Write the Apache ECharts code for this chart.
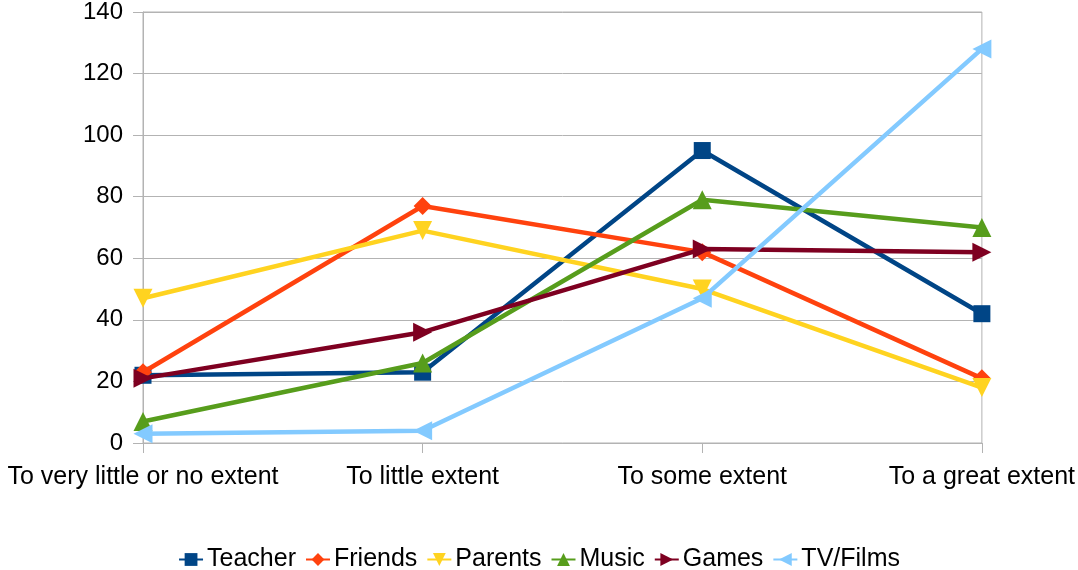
<!DOCTYPE html>
<html>
<head>
<meta charset="utf-8">
<script src="https://cdn.jsdelivr.net/npm/echarts@6/dist/echarts.min.js"></script>
<style>
  html, body { margin: 0; padding: 0; background: #ffffff; }
  #chart { width: 1078px; height: 570px; }
</style>
</head>
<body>
<div id="chart"></div>
<script>
// Categories along the x axis
const categories = ['To very little or no extent', 'To little extent', 'To some extent', 'To a great extent'];

// One series per source of influence
const teacher = [22, 23, 95, 42];
const friends = [23, 77, 62, 21];
const parents = [47, 69, 50, 18];
const music   = [7, 26, 79, 70];
const games   = [21, 36, 63, 62];
const tvFilms = [3, 4, 47, 128];

const seriesNames = ['Teacher', 'Friends', 'Parents', 'Music', 'Games', 'TV/Films'];
const seriesData  = [teacher, friends, parents, music, games, tvFilms];
const colors  = ['#004586', '#ff420e', '#ffd320', '#579d1c', '#7e0021', '#83caff'];
const symbols = ['rect', 'diamond', 'triangle', 'triangle', 'triangle', 'triangle'];
const rotates = [0, 0, 180, 0, -90, 90];
const sizes   = [17, 18, 19, 19, 19, 19];

const gridGray = '#b3b3b3';
const font = 'Liberation Sans, Arial, sans-serif';

const chart = echarts.init(document.getElementById('chart'), null, { renderer: 'canvas' });

chart.setOption({
  animation: false,
  color: colors,
  grid: {
    left: 143, right: 95, top: 12, bottom: 127,
    show: true, borderColor: gridGray, borderWidth: 1
  },
  xAxis: {
    type: 'category',
    data: categories,
    boundaryGap: false,
    axisLine: { lineStyle: { color: gridGray, width: 1 } },
    axisTick: { show: true, length: 10, alignWithLabel: true, lineStyle: { color: gridGray } },
    axisLabel: { color: '#000', fontSize: 25, fontFamily: font, margin: 22, interval: 0 },
    splitLine: { show: false }
  },
  yAxis: {
    type: 'value',
    min: 0, max: 140, interval: 20,
    axisLine: { show: true, lineStyle: { color: gridGray, width: 1 } },
    axisTick: { show: true, length: 10, lineStyle: { color: gridGray } },
    axisLabel: { color: '#000', fontSize: 24, fontFamily: font, margin: 20 },
    splitLine: { show: true, lineStyle: { color: gridGray, width: 1 } }
  },
  legend: {
    top: 542,
    left: 'center',
    itemWidth: 24,
    itemHeight: 16,
    itemGap: 9,
    textStyle: { color: '#000', fontSize: 25, fontFamily: font, padding: [0, 0, 0, -1] },
    data: seriesNames
  },
  series: seriesNames.map((name, i) => ({
    name: name,
    type: 'line',
    data: seriesData[i],
    symbol: symbols[i],
    symbolRotate: rotates[i],
    symbolSize: sizes[i],
    showAllSymbol: true,
    lineStyle: { width: 4.5, color: colors[i] },
    itemStyle: { color: colors[i] },
    z: 2 + i
  }))
});
</script>
</body>
</html>
